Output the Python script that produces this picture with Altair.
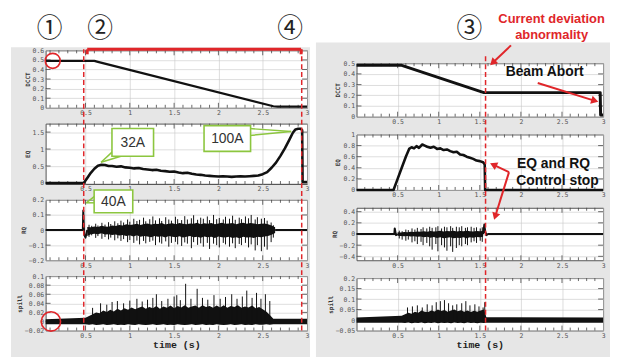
import math
import altair as alt
import pandas as pd

# ============================ DATA ============================
X_TICKS = [0.5, 1, 1.5, 2, 2.5, 3]
L_XDOM = [0.05, 3.0]
R_XDOM = [0.0, 3.0]

L_DCCT_TICKS = [0, 0.1, 0.2, 0.3, 0.4, 0.5, 0.6]
L_EQ_TICKS = [0, 0.5, 1, 1.5]
L_RQ_TICKS = [-0.2, -0.1, 0, 0.1, 0.2]
L_SP_TICKS = [-0.02, 0, 0.02, 0.04, 0.06, 0.08, 0.1]
R_DCCT_TICKS = [0, 0.1, 0.2, 0.3, 0.4, 0.5]
R_EQ_TICKS = [0, 0.2, 0.4, 0.6, 0.8, 1]
R_RQ_TICKS = [-0.4, -0.2, 0, 0.2, 0.4]
R_SP_TICKS = [-0.05, 0, 0.05, 0.1, 0.15, 0.2]

L_DCCT_DOM = [0, 0.6]
L_EQ_DOM = [-0.03, 1.75]
L_RQ_DOM = [-0.2, 0.2]
L_SP_DOM = [-0.02, 0.1]
R_DCCT_DOM = [0, 0.5]
R_EQ_DOM = [0, 1]
R_RQ_DOM = [-0.47, 0.47]
R_SP_DOM = [-0.05, 0.2]

# ---------- left panel ----------
L_DCCT_T = [0.05, 0.60, 0.64, 2.62, 2.67, 3.00]
L_DCCT_V = [0.49, 0.49, 0.48, 0.016, 0.012, 0.012]

L_EQ_T = [0.05, 0.48, 0.52, 0.56, 0.60, 0.64, 0.68, 0.72, 0.76, 0.80,
          0.85, 0.90, 0.95, 1.00, 1.05, 1.10, 1.15, 1.20, 1.25, 1.30,
          1.35, 1.40, 1.45, 1.50, 1.55, 1.60, 1.65, 1.70, 1.75, 1.80,
          1.85, 1.90, 1.95, 2.00, 2.05, 2.10, 2.15, 2.20, 2.25, 2.30,
          2.35, 2.40, 2.45, 2.50, 2.55, 2.60, 2.65, 2.70, 2.75, 2.80,
          2.84, 2.87, 2.90, 2.93, 2.945, 2.95, 3.00]
L_EQ_V = [0, 0, 0.15, 0.30, 0.42, 0.51, 0.54, 0.53, 0.50, 0.50,
          0.48, 0.49, 0.46, 0.45, 0.43, 0.44, 0.41, 0.40, 0.38, 0.39,
          0.36, 0.35, 0.33, 0.34, 0.31, 0.29, 0.30, 0.27, 0.25, 0.24,
          0.22, 0.21, 0.20, 0.19, 0.20, 0.19, 0.18, 0.19, 0.20, 0.19,
          0.20, 0.21, 0.22, 0.26, 0.32, 0.45, 0.60, 0.80, 1.02, 1.27,
          1.48, 1.58, 1.60, 1.60, 1.55, 0.03, 0.03]

L_RQ_LINE_SEG = [0, 0, 0, 0, 0, 0, 1, 1]
L_RQ_LINE_T = [0.05, 0.47, 0.475, 0.485, 0.50, 0.52, 2.64, 3.00]
L_RQ_LINE_V = [0, 0, 0.13, -0.03, -0.05, 0.0, 0.0, 0.0]
L_RQ_T0, L_RQ_DT = 0.52, 0.04
L_RQ_HI = [0.020, 0.018, 0.024, 0.020, 0.028, 0.024, 0.022, 0.030, 0.027, 0.034,
           0.030, 0.038, 0.033, 0.036, 0.042, 0.034, 0.040, 0.044, 0.036, 0.042,
           0.040, 0.046, 0.037, 0.042, 0.045, 0.039, 0.047, 0.041, 0.038, 0.044,
           0.042, 0.048, 0.039, 0.045, 0.041, 0.047, 0.039, 0.044, 0.049, 0.042,
           0.044, 0.047, 0.039, 0.045, 0.048, 0.041, 0.046, 0.044, 0.039, 0.042,
           0.044, 0.038, 0.030, 0.018]
L_RQ_LO = [-0.040, -0.028, -0.024, -0.028, -0.022, -0.030, -0.027, -0.033, -0.029, -0.036,
           -0.033, -0.039, -0.035, -0.042, -0.034, -0.045, -0.039, -0.043, -0.047, -0.039,
           -0.045, -0.041, -0.049, -0.039, -0.045, -0.048, -0.041, -0.050, -0.045, -0.039,
           -0.047, -0.045, -0.051, -0.042, -0.048, -0.045, -0.053, -0.042, -0.047, -0.050,
           -0.045, -0.053, -0.047, -0.055, -0.045, -0.050, -0.048, -0.053, -0.045, -0.047,
           -0.042, -0.039, -0.031, -0.020]
L_RQ_SPK_T = [0.540, 0.570, 0.615, 0.640, 0.685, 0.720, 0.760, 0.785, 0.830, 0.865,
              0.900, 0.930, 0.975, 1.000, 1.045, 1.080, 1.110, 1.155, 1.180, 1.225,
              1.260, 1.290, 1.335, 1.360, 1.405, 1.440, 1.470, 1.515, 1.540, 1.585,
              1.620, 1.650, 1.695, 1.720, 1.765, 1.800, 1.830, 1.875, 1.900, 1.945,
              1.980, 2.010, 2.055, 2.080, 2.125, 2.160, 2.190, 2.235, 2.260, 2.305,
              2.340, 2.370, 2.415, 2.440, 2.485, 2.520, 2.550, 2.595, 2.620]
L_RQ_SPK_HI = [0.035, 0.028, 0.042, 0.030, 0.048, 0.036, 0.052, 0.040, 0.058, 0.045,
               0.062, 0.050, 0.070, 0.055, 0.075, 0.060, 0.068, 0.082, 0.058, 0.072,
               0.090, 0.064, 0.078, 0.060, 0.085, 0.070, 0.062, 0.088, 0.072, 0.066,
               0.092, 0.070, 0.078, 0.098, 0.068, 0.082, 0.075, 0.090, 0.066, 0.100,
               0.072, 0.080, 0.070, 0.088, 0.075, 0.095, 0.068, 0.082, 0.072, 0.090,
               0.078, 0.100, 0.070, 0.085, 0.075, 0.080, 0.062, 0.050, 0.032]
L_RQ_SPK_LO = [-0.045, -0.035, -0.052, -0.040, -0.058, -0.046, -0.062, -0.050, -0.068, -0.055,
               -0.072, -0.060, -0.080, -0.066, -0.085, -0.070, -0.095, -0.072, -0.088, -0.078,
               -0.070, -0.100, -0.082, -0.090, -0.075, -0.110, -0.085, -0.078, -0.095, -0.105,
               -0.082, -0.090, -0.120, -0.080, -0.098, -0.088, -0.110, -0.085, -0.125, -0.090,
               -0.100, -0.115, -0.085, -0.095, -0.110, -0.088, -0.120, -0.092, -0.100, -0.085,
               -0.115, -0.095, -0.135, -0.100, -0.140, -0.110, -0.130, -0.080, -0.050]

L_SP_PRE = (0.05, -0.006, 0.005)
L_SP_POST = (3.00, -0.006, 0.006)
L_SP_T0, L_SP_DT = 0.50, 0.04
L_SP_HI = [0.008, 0.012, 0.016, 0.020, 0.018, 0.024, 0.021, 0.026, 0.022, 0.028,
           0.024, 0.029, 0.026, 0.031, 0.027, 0.030, 0.033, 0.028, 0.032, 0.029,
           0.034, 0.028, 0.033, 0.030, 0.035, 0.029, 0.034, 0.031, 0.036, 0.030,
           0.033, 0.035, 0.030, 0.036, 0.032, 0.034, 0.030, 0.035, 0.031, 0.036,
           0.030, 0.034, 0.032, 0.036, 0.030, 0.033, 0.031, 0.035, 0.029, 0.032,
           0.027, 0.022, 0.014, 0.006]
L_SP_LO = [-0.006, -0.007, -0.006, -0.008, -0.007, -0.006, -0.008, -0.007, -0.006, -0.008,
           -0.007, -0.008, -0.006, -0.007, -0.008, -0.006, -0.007, -0.008, -0.007, -0.006,
           -0.008, -0.007, -0.006, -0.008, -0.007, -0.008, -0.006, -0.007, -0.008, -0.007,
           -0.006, -0.008, -0.007, -0.006, -0.008, -0.007, -0.008, -0.006, -0.007, -0.008,
           -0.007, -0.006, -0.008, -0.007, -0.006, -0.008, -0.007, -0.008, -0.006, -0.007,
           -0.007, -0.006, -0.007, -0.006]
L_SP_SPK_T = [0.58, 0.67, 0.74, 0.80, 0.86, 0.93, 1.00, 1.08, 1.14, 1.20, 1.26, 1.30, 1.36, 1.43,
              1.50, 1.53, 1.57, 1.63, 1.69, 1.76, 1.82, 1.88, 1.95, 2.02, 2.08, 2.15, 2.21, 2.27,
              2.32, 2.38, 2.43, 2.48, 2.53, 2.58]
L_SP_SPK_HI = [0.030, 0.040, 0.037, 0.043, 0.045, 0.040, 0.046, 0.050, 0.044, 0.048, 0.052, 0.060, 0.045, 0.050,
               0.055, 0.058, 0.047, 0.083, 0.050, 0.072, 0.052, 0.048, 0.058, 0.050, 0.054, 0.060, 0.050, 0.055,
               0.068, 0.052, 0.063, 0.050, 0.060, 0.045]

# ---------- right panel ----------
R_DCCT_T = [0.00, 0.55, 1.55, 2.965, 2.970, 3.00]
R_DCCT_V = [0.48, 0.48, 0.225, 0.225, 0.015, 0.015]

R_EQ_T = [0.00, 0.45, 0.50, 0.55, 0.60, 0.64, 0.67, 0.70, 0.73, 0.76,
          0.80, 0.83, 0.86, 0.90, 0.94, 0.98, 1.02, 1.06, 1.10, 1.14,
          1.18, 1.22, 1.26, 1.30, 1.34, 1.38, 1.42, 1.46, 1.50, 1.54,
          1.56, 1.565, 3.00]
R_EQ_V = [0, 0, 0.20, 0.40, 0.60, 0.74, 0.77, 0.75, 0.79, 0.76,
          0.82, 0.80, 0.78, 0.76, 0.78, 0.74, 0.75, 0.72, 0.73, 0.70,
          0.68, 0.69, 0.64, 0.63, 0.60, 0.58, 0.56, 0.53, 0.52, 0.50,
          0.46, 0, 0]

R_RQ_LINE_SEG = [0, 0, 0, 0, 0, 1, 1, 1, 1, 1, 1]
R_RQ_LINE_T = [0.00, 0.46, 0.465, 0.48, 0.50, 1.54, 1.555, 1.565, 1.58, 1.60, 3.00]
R_RQ_LINE_V = [0, 0, 0.10, -0.02, 0.0, 0.0, 0.17, 0.05, -0.02, 0.0, 0.0]
R_RQ_T0, R_RQ_DT = 0.50, 0.04
R_RQ_HI = [0.030, 0.025, 0.035, 0.030, 0.040, 0.035, 0.045, 0.040, 0.050, 0.040,
           0.055, 0.045, 0.050, 0.060, 0.045, 0.055, 0.050, 0.060, 0.045, 0.055,
           0.050, 0.060, 0.050, 0.045, 0.055, 0.050, 0.055]
R_RQ_LO = [-0.030, -0.035, -0.040, -0.035, -0.045, -0.040, -0.050, -0.045, -0.060, -0.050,
           -0.065, -0.055, -0.070, -0.060, -0.075, -0.065, -0.060, -0.075, -0.065, -0.070,
           -0.060, -0.075, -0.060, -0.065, -0.055, -0.060, -0.050]
R_RQ_SPK_T = [0.520, 0.555, 0.600, 0.630, 0.675, 0.710, 0.740, 0.785, 0.810, 0.855,
              0.890, 0.920, 0.965, 0.990, 1.035, 1.070, 1.100, 1.145, 1.170, 1.215,
              1.250, 1.280, 1.325, 1.350, 1.395, 1.430, 1.460, 1.505, 1.530]
R_RQ_SPK_HI = [0.06, 0.05, 0.08, 0.07, 0.10, 0.08, 0.11, 0.09, 0.12, 0.10,
               0.13, 0.11, 0.12, 0.14, 0.10, 0.13, 0.12, 0.14, 0.11, 0.13,
               0.12, 0.14, 0.11, 0.12, 0.13, 0.11, 0.12, 0.10, 0.12]
R_RQ_SPK_LO = [-0.08, -0.10, -0.12, -0.10, -0.15, -0.13, -0.18, -0.14, -0.20, -0.16,
               -0.22, -0.28, -0.18, -0.31, -0.20, -0.24, -0.30, -0.22, -0.32, -0.25,
               -0.20, -0.22, -0.18, -0.20, -0.15, -0.13, -0.16, -0.12, -0.14]

R_SP_PRE = (0.00, -0.013, 0.012)
R_SP_POST_T = [1.58, 3.00]
R_SP_POST_LO = [-0.013, -0.013]
R_SP_POST_HI = [0.013, 0.012]
R_SP_T0, R_SP_DT = 0.55, 0.04
R_SP_HI = [0.020, 0.028, 0.035, 0.030, 0.040, 0.035, 0.045, 0.040, 0.038, 0.046,
           0.041, 0.050, 0.043, 0.048, 0.040, 0.045, 0.050, 0.042, 0.047, 0.040,
           0.045, 0.038, 0.044, 0.040, 0.046, 0.050]
R_SP_LO = [-0.013, -0.014, -0.012, -0.015, -0.013, -0.014, -0.012, -0.015, -0.013, -0.014,
           -0.012, -0.015, -0.013, -0.014, -0.013, -0.015, -0.012, -0.014, -0.013, -0.015,
           -0.012, -0.014, -0.013, -0.015, -0.013, -0.014]
R_SP_SPK_T = [0.62, 0.68, 0.74, 0.80, 0.86, 0.92, 0.97, 1.02, 1.07, 1.12, 1.17, 1.22, 1.28, 1.33, 1.38, 1.44, 1.49, 1.54, 1.56]
R_SP_SPK_HI = [0.060, 0.065, 0.070, 0.060, 0.075, 0.070, 0.085, 0.090, 0.095, 0.080, 0.070, 0.075, 0.080, 0.090, 0.070, 0.075, 0.065, 0.060, 0.085]

# event markers (time values)
L_EVENT_T = [0.48, 2.94]
R_EVENT_T = [1.57]
L_MARK_T = [0.13, 0.11]          # red circles: DCCT / spill at start
L_MARK_V = [0.49, 0.0]

# ---------- annotation text (page pixel positions) ----------
CIRCLED = ["①", "②", "④", "③"]
CIRCLED_X = [49, 100, 292, 473]
CIRCLED_Y = [24, 24, 24, 24]
RED_TEXT = ["Current deviation", "abnormality"]
RED_TEXT_X = [556, 556]
RED_TEXT_Y = [13, 30]
BLACK_TEXT = ["Beam Abort", "EQ and RQ", "Control stop"]
BLACK_TEXT_X = [549, 558, 562]
BLACK_TEXT_Y = [67, 160, 177]
CALLOUT_TEXT = ["32A", "100A", "40A"]
CALLOUT_X1 = [112, 205, 94]
CALLOUT_X2 = [154, 252, 133]
CALLOUT_Y1 = [124, 121, 186]
CALLOUT_Y2 = [152, 147, 209]
TAIL_AX = [114, 251, 95]
TAIL_AY = [146, 124, 192]
TAIL_BX = [121, 251, 95]
TAIL_BY = [152, 131, 199]
TAIL_TX = [101, 293, 86]
TAIL_TY = [158, 127, 199]
ARROW_X1 = [515, 542, 513, 513]
ARROW_Y1 = [40, 78, 168, 168]
ARROW_X2 = [494, 603, 494, 498]
ARROW_Y2 = [60, 97, 159, 216]
BRACKET_X = [87, 303]
BRACKET_Y = 44

# ============================ LAYOUT ============================
M = 8
L_X0, L_W = 45, 264
R_X0, R_W = 359, 249
L_HEAD, L_GAP = 21, 16
L_H = [58, 61, 61, 55]
R_HEAD, R_GAP = 32, 18
R_H = [54, 56, 53, 53]
FOOT_H = 1
CHART_W, CHART_H = 607, 349
PANEL_L = (10, 312, 42)
PANEL_R = (318, 615, 37)

RED = "#e0262a"
GREEN = "#8cc63f"
BLACK = "#111111"
GRAY_BG = "#e6e6e6"

for _a, _b in [(L_EQ_T, L_EQ_V), (L_RQ_HI, L_RQ_LO), (L_RQ_SPK_T, L_RQ_SPK_HI), (L_RQ_SPK_T, L_RQ_SPK_LO),
               (L_SP_HI, L_SP_LO), (L_SP_SPK_T, L_SP_SPK_HI), (R_EQ_T, R_EQ_V), (R_RQ_HI, R_RQ_LO),
               (R_RQ_SPK_T, R_RQ_SPK_HI), (R_RQ_SPK_T, R_RQ_SPK_LO), (R_SP_HI, R_SP_LO),
               (R_SP_SPK_T, R_SP_SPK_HI)]:
    assert len(_a) == len(_b)


def tops(head, gap, hs):
    out, y = [], M + head + gap
    for h in hs:
        out.append(y)
        y += h + gap
    return out, y


L_TOPS, _ = tops(L_HEAD, L_GAP, L_H)
R_TOPS, FOOT_TOP = tops(R_HEAD, R_GAP, R_H)


def val_at(page_y, top, h, dom):
    return dom[1] - (page_y - top) * (dom[1] - dom[0]) / h


# ============================ HELPERS ============================
def X(dom, bottom):
    kw = dict(values=X_TICKS, format="~g", labelFlush=False)
    if bottom:
        kw.update(title="time (s)", titleFont="Liberation Mono", titleFontSize=10,
                  titleFontWeight="bold", titleColor="#222", titlePadding=1)
    else:
        kw["title"] = None
    return alt.X("t:Q", scale=alt.Scale(domain=dom, nice=False, zero=False), axis=alt.Axis(**kw))


def Y(field, dom, ticks, title):
    return alt.Y(f"{field}:Q", scale=alt.Scale(domain=dom, nice=False, zero=False),
                 axis=alt.Axis(values=ticks, format="~g", title=title))


def grid_times(t0, dt, n):
    return [round(t0 + i * dt, 4) for i in range(n)]


PLOT_VIEW = alt.ViewBackground(fill="white", stroke="#555555", strokeWidth=1)
NO_VIEW = alt.ViewBackground(fill="transparent", stroke="transparent")


def line_layer(t, v, xdom, ydom, yt, title, bottom, width=2.0, seg=None):
    df = pd.DataFrame({"t": t, "v": v, "seg": seg if seg else [0] * len(t)})
    return alt.Chart(df).mark_line(color=BLACK, strokeWidth=width, strokeJoin="round").encode(
        x=X(xdom, bottom), y=Y("v", ydom, yt, title), detail="seg:N")


def env_layer(t, lo, hi, xdom, ydom, yt, title, bottom):
    df = pd.DataFrame({"t": t, "lo": lo, "hi": hi})
    return alt.Chart(df).mark_area(color=BLACK, opacity=1).encode(
        x=X(xdom, bottom), y=Y("hi", ydom, yt, title), y2=alt.Y2("lo:Q"))


def spike_layer(t, lo, hi, xdom, ydom, yt, title, bottom):
    df = pd.DataFrame({"t": t, "lo": lo, "hi": hi})
    return alt.Chart(df).mark_rule(color=BLACK, strokeWidth=1).encode(
        x=X(xdom, bottom), y=Y("lo", ydom, yt, title), y2=alt.Y2("hi:Q"))


def dash_layer(ts, lo, hi, xdom, ydom, yt, title, bottom):
    df = pd.DataFrame({"t": ts, "lo": [lo] * len(ts), "hi": [hi] * len(ts)})
    return alt.Chart(df).mark_rule(color=RED, strokeWidth=1.5, strokeDash=[5, 3]).encode(
        x=X(xdom, bottom), y=Y("lo", ydom, yt, title), y2=alt.Y2("hi:Q"))


def circle_layer(t, v, size, xdom, ydom, yt, title, bottom):
    df = pd.DataFrame({"t": t, "v": v})
    return alt.Chart(df).mark_point(shape="circle", filled=False, color=RED, strokeWidth=1.6, size=size,
                                    opacity=1).encode(x=X(xdom, bottom), y=Y("v", ydom, yt, title))


def frame_ticks(w, h, xdom, ydom, yt, title, bottom):
    """small inward tick marks along the plot frame (as in the instrument plots)"""
    dy = (ydom[1] - ydom[0]) / h
    dx = (xdom[1] - xdom[0]) / w
    ts, lo, hi = [], [], []
    for k in range(1, 30):
        t = k / 10
        if not (xdom[0] < t < xdom[1]):
            continue
        ln = (5 if k % 5 == 0 else 3) * dy
        ts += [t, t]
        lo += [ydom[0], ydom[1] - ln]
        hi += [ydom[0] + ln, ydom[1]]
    vert = alt.Chart(pd.DataFrame({"t": ts, "lo": lo, "hi": hi})).mark_rule(
        color="#444444", strokeWidth=0.8).encode(
        x=X(xdom, bottom), y=Y("lo", ydom, yt, title), y2=alt.Y2("hi:Q"))
    vs = [v for v in yt if ydom[0] < v < ydom[1]]
    x1 = [xdom[0]] * len(vs) + [xdom[1] - 5 * dx] * len(vs)
    x2 = [xdom[0] + 5 * dx] * len(vs) + [xdom[1]] * len(vs)
    horiz = alt.Chart(pd.DataFrame({"t": x1, "t2": x2, "v": vs + vs})).mark_rule(
        color="#444444", strokeWidth=0.8).encode(
        x=X(xdom, bottom), x2=alt.X2("t2:Q"), y=Y("v", ydom, yt, title))
    return [vert, horiz]


def panel(layers, w, h, a):
    return alt.layer(*(frame_ticks(w, h, *a) + layers)).properties(width=w, height=h, view=PLOT_VIEW)


def blank(w, h):
    return alt.Chart(pd.DataFrame({"x": [0], "y": [0]})).mark_point(opacity=0).encode(
        x=alt.X("x:Q", scale=alt.Scale(domain=[0, w], nice=False, zero=False), axis=None),
        y=alt.Y("y:Q", scale=alt.Scale(domain=[0, h], reverse=True, nice=False, zero=False), axis=None),
    ).properties(width=w, height=h, view=NO_VIEW)


# ============================ LEFT COLUMN ============================
bg = pd.DataFrame({
    "x": [M - L_X0, PANEL_L[0] - L_X0, PANEL_R[0] - L_X0],
    "x2": [M + CHART_W - L_X0, PANEL_L[1] - L_X0, PANEL_R[1] - L_X0],
    "y": [0, PANEL_L[2] - M, PANEL_R[2] - M],
    "y2": [CHART_H, CHART_H, CHART_H],
    "c": ["#ffffff", GRAY_BG, GRAY_BG],
})
head_l = alt.Chart(bg).mark_rect().encode(
    x=alt.X("x:Q", scale=alt.Scale(domain=[0, L_W], nice=False, zero=False), axis=None),
    x2="x2:Q",
    y=alt.Y("y:Q", scale=alt.Scale(domain=[0, L_HEAD], reverse=True, nice=False, zero=False), axis=None),
    y2="y2:Q",
    color=alt.Color("c:N", scale=None),
).properties(width=L_W, height=L_HEAD, view=NO_VIEW)

a = (L_XDOM, L_DCCT_DOM, L_DCCT_TICKS, "DCCT", False)
l1 = panel([
    line_layer(L_DCCT_T, L_DCCT_V, *a, width=2.2),
    circle_layer(L_MARK_T[:1], L_MARK_V[:1], 230, *a),
], L_W, L_H[0], a)

a = (L_XDOM, L_EQ_DOM, L_EQ_TICKS, "EQ", False)
l2 = panel([line_layer(L_EQ_T, L_EQ_V, *a, width=2.6)], L_W, L_H[1], a)

a = (L_XDOM, L_RQ_DOM, L_RQ_TICKS, "RQ", False)
l3 = panel([
    line_layer(L_RQ_LINE_T, L_RQ_LINE_V, *a, width=2.0, seg=L_RQ_LINE_SEG),
    env_layer(grid_times(L_RQ_T0, L_RQ_DT, len(L_RQ_HI)), L_RQ_LO, L_RQ_HI, *a),
    spike_layer(L_RQ_SPK_T, L_RQ_SPK_LO, L_RQ_SPK_HI, *a),
], L_W, L_H[2], a)

a = (L_XDOM, L_SP_DOM, L_SP_TICKS, "spill", True)
sp_t = [L_SP_PRE[0]] + grid_times(L_SP_T0, L_SP_DT, len(L_SP_HI)) + [L_SP_POST[0]]
sp_lo = [L_SP_PRE[1]] + L_SP_LO + [L_SP_POST[1]]
sp_hi = [L_SP_PRE[2]] + L_SP_HI + [L_SP_POST[2]]
l4_top_val = val_at(BRACKET_Y, L_TOPS[3], L_H[3], L_SP_DOM)
l4 = panel([
    env_layer(sp_t, sp_lo, sp_hi, *a),
    spike_layer(L_SP_SPK_T, [0] * len(L_SP_SPK_T), L_SP_SPK_HI, *a),
    circle_layer(L_MARK_T[1:], L_MARK_V[1:], 380, *a),
    dash_layer(L_EVENT_T, L_SP_DOM[0], l4_top_val, *a),
], L_W, L_H[3], a)

left_col = alt.vconcat(head_l, l1, l2, l3, l4, spacing=L_GAP, bounds="flush")

# ============================ RIGHT COLUMN ============================
head_r = blank(R_W, R_HEAD)

a = (R_XDOM, R_DCCT_DOM, R_DCCT_TICKS, "DCCT", False)
r1 = panel([line_layer(R_DCCT_T, R_DCCT_V, *a, width=3.0)], R_W, R_H[0], a)

a = (R_XDOM, R_EQ_DOM, R_EQ_TICKS, "EQ", False)
r2 = panel([line_layer(R_EQ_T, R_EQ_V, *a, width=2.6)], R_W, R_H[1], a)

a = (R_XDOM, R_RQ_DOM, R_RQ_TICKS, "RQ", False)
r3 = panel([
    line_layer(R_RQ_LINE_T, R_RQ_LINE_V, *a, width=2.0, seg=R_RQ_LINE_SEG),
    env_layer(grid_times(R_RQ_T0, R_RQ_DT, len(R_RQ_HI)), R_RQ_LO, R_RQ_HI, *a),
    spike_layer(R_RQ_SPK_T, R_RQ_SPK_LO, R_RQ_SPK_HI, *a),
], R_W, R_H[2], a)

a = (R_XDOM, R_SP_DOM, R_SP_TICKS, "spill", True)
rsp_t = [R_SP_PRE[0]] + grid_times(R_SP_T0, R_SP_DT, len(R_SP_HI)) + R_SP_POST_T
rsp_lo = [R_SP_PRE[1]] + R_SP_LO + R_SP_POST_LO
rsp_hi = [R_SP_PRE[2]] + R_SP_HI + R_SP_POST_HI
r4_top_val = val_at(50, R_TOPS[3], R_H[3], R_SP_DOM)
r4 = panel([
    env_layer(rsp_t, rsp_lo, rsp_hi, *a),
    spike_layer(R_SP_SPK_T, [0] * len(R_SP_SPK_T), R_SP_SPK_HI, *a),
    dash_layer(R_EVENT_T, R_SP_DOM[0], r4_top_val, *a),
], R_W, R_H[3], a)

# ---------- overlay (drawn last) ----------
OX, OY = R_X0, FOOT_TOP
PX = alt.X("x:Q", scale=alt.Scale(domain=[0, R_W], nice=False, zero=False), axis=None)
PY = alt.Y("y:Q", scale=alt.Scale(domain=[0, FOOT_H], reverse=True, nice=False, zero=False), axis=None)


def seg_df(x1, y1, x2, y2):
    return pd.DataFrame({"x": [v - OX for v in x1], "y": [v - OY for v in y1],
                         "x2": [v - OX for v in x2], "y2": [v - OY for v in y2]})


def txt_df(txt, xs, ys):
    return pd.DataFrame({"x": [v - OX for v in xs], "y": [v - OY for v in ys], "txt": txt})


line_x1, line_y1, line_x2, line_y2, hx, hy, ha = [], [], [], [], [], [], []
for x1, y1, x2, y2 in zip(ARROW_X1, ARROW_Y1, ARROW_X2, ARROW_Y2):
    L = math.hypot(x2 - x1, y2 - y1)
    ux, uy = (x2 - x1) / L, (y2 - y1) / L
    line_x1.append(x1); line_y1.append(y1)
    line_x2.append(x2 - ux * 5); line_y2.append(y2 - uy * 5)
    hx.append(x2 - ux * 3.5 - OX); hy.append(y2 - uy * 3.5 - OY)
    ha.append(math.degrees(math.atan2(ux, -uy)) % 360)

arrow_lines = alt.Chart(seg_df(line_x1, line_y1, line_x2, line_y2)).mark_rule(
    color=RED, strokeWidth=2).encode(x=PX, y=PY, x2="x2:Q", y2="y2:Q")
arrow_heads = alt.Chart(pd.DataFrame({"x": hx, "y": hy, "a": ha})).mark_point(
    shape="triangle-up", filled=True, color=RED, size=70, opacity=1).encode(
    x=PX, y=PY, angle=alt.Angle("a:Q", scale=None))

bracket = alt.Chart(seg_df([BRACKET_X[0], BRACKET_X[0], BRACKET_X[1]],
                           [BRACKET_Y, BRACKET_Y, BRACKET_Y],
                           [BRACKET_X[1], BRACKET_X[0], BRACKET_X[1]],
                           [BRACKET_Y, BRACKET_Y + 5, BRACKET_Y + 5])).mark_rule(
    color=RED, strokeWidth=3).encode(x=PX, y=PY, x2="x2:Q", y2="y2:Q")

tails = alt.Chart(seg_df(TAIL_AX + TAIL_BX, TAIL_AY + TAIL_BY, TAIL_TX + TAIL_TX, TAIL_TY + TAIL_TY)).mark_rule(
    color=GREEN, strokeWidth=1.5).encode(x=PX, y=PY, x2="x2:Q", y2="y2:Q")
boxes = alt.Chart(seg_df(CALLOUT_X1, CALLOUT_Y1, CALLOUT_X2, CALLOUT_Y2)).mark_rect(
    fill="white", stroke=GREEN, strokeWidth=1.6).encode(x=PX, y=PY, x2="x2:Q", y2="y2:Q")
box_text = alt.Chart(txt_df(CALLOUT_TEXT,
                            [(a_ + b_) / 2 for a_, b_ in zip(CALLOUT_X1, CALLOUT_X2)],
                            [(a_ + b_) / 2 + 1 for a_, b_ in zip(CALLOUT_Y1, CALLOUT_Y2)])).mark_text(
    font="Liberation Sans", fontSize=14, color="#333333", align="center", baseline="middle").encode(
    x=PX, y=PY, text="txt:N")
circled = alt.Chart(txt_df(CIRCLED, CIRCLED_X, CIRCLED_Y)).mark_text(
    font="Noto Sans CJK JP", fontSize=26, color="#222222", align="center", baseline="middle").encode(
    x=PX, y=PY, text="txt:N")
red_text = alt.Chart(txt_df(RED_TEXT, RED_TEXT_X, RED_TEXT_Y)).mark_text(
    font="Liberation Sans", fontSize=13, fontWeight="bold", color=RED, align="center", baseline="middle").encode(
    x=PX, y=PY, text="txt:N")
black_text = alt.Chart(txt_df(BLACK_TEXT, BLACK_TEXT_X, BLACK_TEXT_Y)).mark_text(
    font="Liberation Sans", fontSize=14, fontWeight="bold", color="#111111", align="center", baseline="middle").encode(
    x=PX, y=PY, text="txt:N")

foot_r = alt.layer(bracket, tails, boxes, box_text, circled, red_text, black_text,
                   arrow_lines, arrow_heads).properties(width=R_W, height=FOOT_H, view=NO_VIEW)

right_col = alt.vconcat(head_r, r1, r2, r3, r4, foot_r, spacing=R_GAP, bounds="flush")

# a nested flush column reports zero width to its parent, so the column gap
# includes the left column's plot width
chart = alt.hconcat(
    left_col, right_col, spacing=R_X0 - L_X0, bounds="flush",
).properties(
    padding=0, background="white"
).configure_axis(
    labelFont="DejaVu Sans Mono", labelFontSize=6.5, labelColor="#555555",
    titleFont="DejaVu Sans Mono", titleFontSize=6, titleFontWeight="bold", titleColor="#333333",
    ticks=False, domain=False, gridColor="#c8c8c8", gridWidth=0.6, labelPadding=2, titlePadding=2,
    labelFlush=False,
).configure_view(stroke="transparent")

chart.save("out.html", embed_options={"renderer": "svg", "actions": False})
